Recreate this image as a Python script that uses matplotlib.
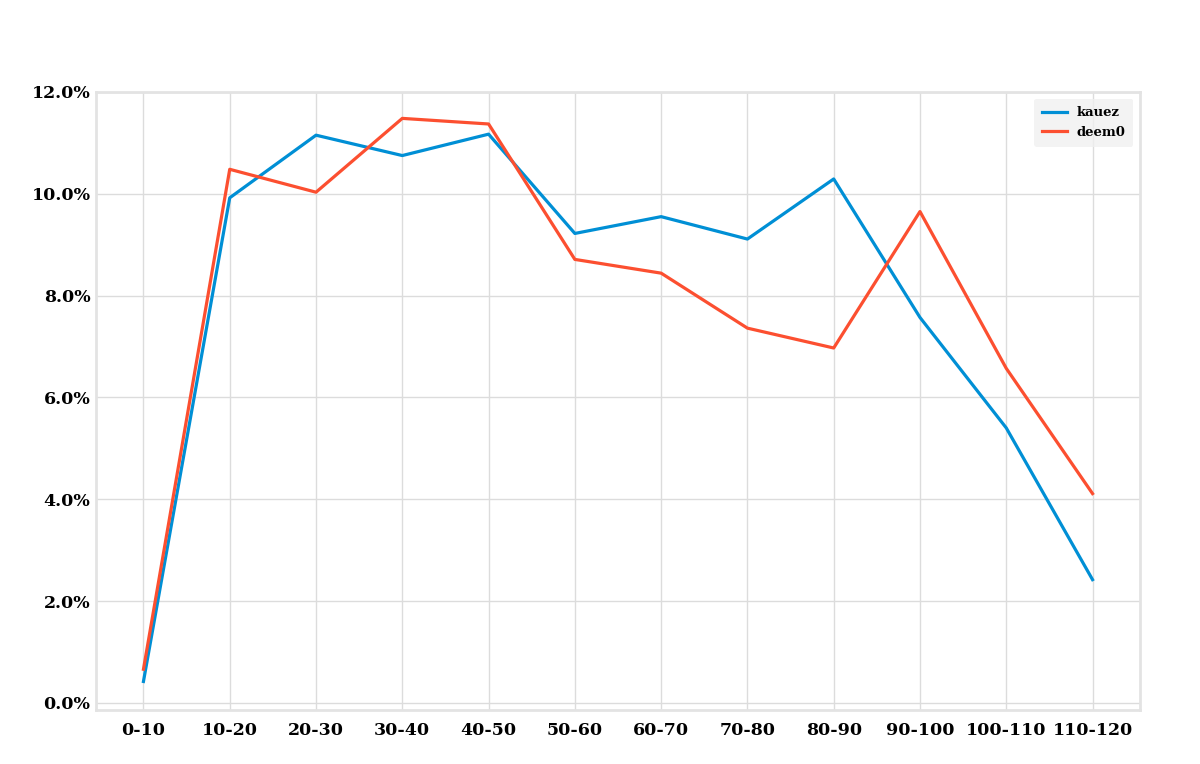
import matplotlib
matplotlib.use("Agg")
import matplotlib.pyplot as plt
from matplotlib.ticker import FuncFormatter

bins = ["0-10", "10-20", "20-30", "30-40", "40-50", "50-60",
        "60-70", "70-80", "80-90", "90-100", "100-110", "110-120"]
kauez = [0.42, 9.92, 11.15, 10.75, 11.17, 9.22, 9.55, 9.11, 10.29, 7.57, 5.40, 2.42]
deem0 = [0.66, 10.48, 10.03, 11.48, 11.37, 8.71, 8.44, 7.36, 6.97, 9.65, 6.57, 4.11]

plt.rcParams['font.family'] = ['DejaVu Serif']

fig = plt.figure(figsize=(12, 7.64), dpi=100)
ax = fig.add_axes([0.08, 0.0707, 0.87, 0.809])

x = range(len(bins))
ax.plot(x, kauez, color='#008fd5', lw=2.3, label='kauez')
ax.plot(x, deem0, color='#fc4f30', lw=2.3, label='deem0')

ax.set_xticks(list(x))
ax.set_xticklabels(bins)
ax.set_ylim(-0.14, 12.0)
ax.set_yticks([0, 2, 4, 6, 8, 10, 12])
ax.yaxis.set_major_formatter(FuncFormatter(lambda v, p: f"{v:.1f}%"))

ax.grid(True, color='#dcdcdc', lw=1.0)
ax.set_axisbelow(True)
for s in ax.spines.values():
    s.set_color('#e3e3e3')
    s.set_linewidth(2)
ax.tick_params(axis='x', length=0, labelsize=12.5, pad=9)
ax.tick_params(axis='y', length=0, labelsize=12.5, pad=4)
for lab in ax.get_xticklabels() + ax.get_yticklabels():
    lab.set_fontweight('bold')

leg = ax.legend(loc='upper right', fontsize=9.5, frameon=True, borderpad=0.6,
                handlelength=1.9, handletextpad=0.7, fancybox=True)
leg.get_frame().set_facecolor('#f0f0f0')
leg.get_frame().set_edgecolor('none')
for t in leg.get_texts():
    t.set_fontweight('bold')

fig.savefig('out.png', dpi=100, facecolor='white')
